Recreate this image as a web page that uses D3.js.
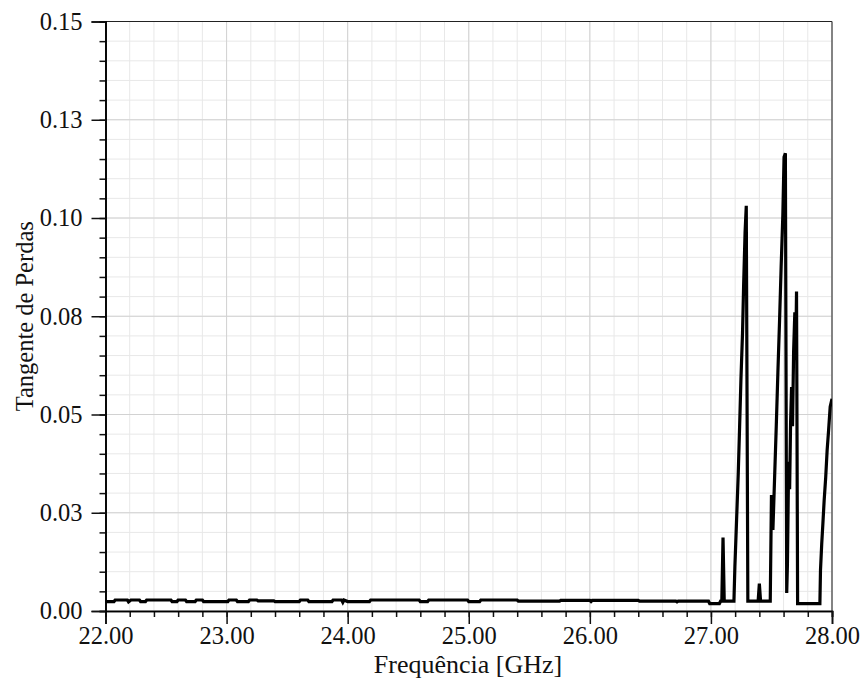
<!DOCTYPE html>
<html>
<head>
<meta charset="utf-8">
<script src="https://cdn.jsdelivr.net/npm/d3@7"></script>
<style>
  html, body { margin: 0; padding: 0; background: #fff; }
  svg { display: block; font-family: "Liberation Serif", "Times New Roman", serif; }
</style>
</head>
<body>
<svg id="chart" width="865" height="681"></svg>
<script>
// Measured loss tangent vs. frequency
const freqGHz = [
  22.00, 22.07, 22.08, 22.18, 22.19, 22.21, 22.28, 22.29, 22.33, 22.34,
  22.54, 22.55, 22.59, 22.60, 22.66, 22.67, 22.74, 22.75, 22.80, 22.81,
  23.01, 23.02, 23.08, 23.09, 23.18, 23.19, 23.25, 23.26, 23.39, 23.40,
  23.60, 23.61, 23.67, 23.68, 23.87, 23.88, 23.95, 23.96, 23.97, 24.00,
  24.18, 24.19, 24.59, 24.60, 24.66, 24.67, 24.99, 25.00, 25.09, 25.10,
  25.40, 25.41, 25.75, 25.76, 26.00, 26.01, 26.02, 26.40, 26.41, 26.71,
  26.72, 26.73, 26.98, 26.99, 27.07, 27.08, 27.09, 27.10, 27.11, 27.19,
  27.198, 27.212, 27.226, 27.237, 27.248, 27.261, 27.270, 27.282, 27.292, 27.305,
  27.39, 27.40, 27.41, 27.49,
  27.500, 27.512, 27.528, 27.540, 27.553, 27.567, 27.580, 27.594, 27.604, 27.615,
  27.626, 27.632, 27.642, 27.650, 27.658, 27.666, 27.674, 27.683, 27.693, 27.700,
  27.707, 27.716, 27.900,
  27.905, 27.915, 27.925, 27.935, 27.948, 27.960, 27.972, 27.985, 28.000
];
const tanDelta = [
  0.0024, 0.0024, 0.0028, 0.0028, 0.0023, 0.0028, 0.0028, 0.0024, 0.0024, 0.0028,
  0.0028, 0.0024, 0.0024, 0.0028, 0.0028, 0.0024, 0.0024, 0.0028, 0.0028, 0.0024,
  0.0024, 0.0028, 0.0028, 0.0024, 0.0024, 0.0028, 0.0028, 0.0026, 0.0026, 0.0024,
  0.0024, 0.0028, 0.0028, 0.0024, 0.0024, 0.0028, 0.0028, 0.0022, 0.0028, 0.0024,
  0.0024, 0.0028, 0.0028, 0.0024, 0.0024, 0.0028, 0.0028, 0.0024, 0.0024, 0.0028,
  0.0028, 0.0025, 0.0025, 0.0027, 0.0027, 0.0024, 0.0027, 0.0027, 0.0025, 0.0025,
  0.0023, 0.0025, 0.0025, 0.0019, 0.0019, 0.0025, 0.0025, 0.0187, 0.0025, 0.0025,
  0.0113, 0.0232, 0.0352, 0.0469, 0.0590, 0.0707, 0.0827, 0.0963, 0.1031, 0.0025,
  0.0025, 0.0070, 0.0025, 0.0025,
  0.0295, 0.0206, 0.0359, 0.0473, 0.0606, 0.0740, 0.0876, 0.1008, 0.1155, 0.1165,
  0.0046, 0.0120, 0.0380, 0.0310, 0.0480, 0.0570, 0.0470, 0.0660, 0.0760, 0.0640,
  0.0813, 0.0019, 0.0019,
  0.0104, 0.0170, 0.0224, 0.0280, 0.0340, 0.0410, 0.0460, 0.0520, 0.0540
];

const xTickValues = [22, 23, 24, 25, 26, 27, 28];
const xTickLabels = ["22.00", "23.00", "24.00", "25.00", "26.00", "27.00", "28.00"];
const yTickValues = [0, 0.025, 0.05, 0.075, 0.1, 0.125, 0.15];
const yTickLabels = ["0.00", "0.03", "0.05", "0.08", "0.10", "0.13", "0.15"];
const xMinorStep = 0.2;
const yMinorStep = 0.005;

const xTitle = "Frequência [GHz]";
const yTitle = "Tangente de Perdas";

const serif = '"Liberation Serif", "Times New Roman", serif';

const svg = d3.select("#chart");
const margin = { left: 105.5, right: 33, top: 21.5, bottom: 70 };
const W = +svg.attr("width"), H = +svg.attr("height");
const x0 = margin.left, x1 = W - margin.right;
const y0 = H - margin.bottom, y1 = margin.top;

const x = d3.scaleLinear().domain([22, 28]).range([x0, x1]);
const y = d3.scaleLinear().domain([0, 0.15]).range([y0, y1]);

const xMinor = d3.range(0, Math.round((28 - 22) / xMinorStep) + 1).map(i => 22 + i * xMinorStep);
const yMinor = d3.range(0, Math.round(0.15 / yMinorStep) + 1).map(i => i * yMinorStep);

// grid: fine lines first, then the major ones on top
const grid = svg.append("g");
grid.selectAll("line.vminor").data(xMinor).join("line")
  .attr("x1", d => x(d)).attr("x2", d => x(d)).attr("y1", y0).attr("y2", y1)
  .attr("stroke", "#e8e8e8").attr("stroke-width", 1);
grid.selectAll("line.hminor").data(yMinor).join("line")
  .attr("y1", d => y(d)).attr("y2", d => y(d)).attr("x1", x0).attr("x2", x1)
  .attr("stroke", "#e8e8e8").attr("stroke-width", 1);
grid.selectAll("line.vmajor").data(xTickValues).join("line")
  .attr("x1", d => x(d)).attr("x2", d => x(d)).attr("y1", y0).attr("y2", y1)
  .attr("stroke", "#d2d2d2").attr("stroke-width", 1);
grid.selectAll("line.hmajor").data(yTickValues).join("line")
  .attr("y1", d => y(d)).attr("y2", d => y(d)).attr("x1", x0).attr("x2", x1)
  .attr("stroke", "#d2d2d2").attr("stroke-width", 1);

// frame on top and right
svg.append("line").attr("x1", x0).attr("x2", x1).attr("y1", y1).attr("y2", y1)
  .attr("stroke", "#222").attr("stroke-width", 1.2);
svg.append("line").attr("x1", x1).attr("x2", x1).attr("y1", y1).attr("y2", y0)
  .attr("stroke", "#444").attr("stroke-width", 1.2);

// data trace
svg.append("clipPath").attr("id", "plotClip").append("rect")
  .attr("x", x0).attr("y", y1).attr("width", x1 - x0).attr("height", y0 - y1);
const line = d3.line().x(d => x(d[0])).y(d => y(d[1]));
svg.append("path")
  .datum(freqGHz.map((f, i) => [f, tanDelta[i]]))
  .attr("clip-path", "url(#plotClip)")
  .attr("fill", "none").attr("stroke", "#000").attr("stroke-width", 3.2)
  .attr("d", line);

// axes
const xMinorAxis = d3.axisBottom(x).tickValues(xMinor).tickSize(6).tickFormat("");
const xAxis = d3.axisBottom(x).tickValues(xTickValues).tickSize(13)
  .tickFormat((d, i) => xTickLabels[i]).tickPadding(3);
const yMinorAxis = d3.axisLeft(y).tickValues(yMinor).tickSize(6).tickFormat("");
const yAxis = d3.axisLeft(y).tickValues(yTickValues).tickSize(14)
  .tickFormat((d, i) => yTickLabels[i]).tickPadding(9);

function style(g) {
  g.attr("font-family", serif);
  g.selectAll(".domain").attr("stroke", "#000").attr("stroke-width", 1.6);
  g.selectAll(".tick line").attr("stroke", "#111").attr("stroke-width", 1.5);
  g.selectAll(".tick text").attr("fill", "#111")
    .style("font-family", serif).style("font-size", "24.5px");
}
svg.append("g").attr("transform", `translate(0,${y0})`).call(xMinorAxis).call(style);
svg.append("g").attr("transform", `translate(0,${y0})`).call(xAxis).call(style);
svg.append("g").attr("transform", `translate(${x0},0)`).call(yMinorAxis).call(style);
svg.append("g").attr("transform", `translate(${x0},0)`).call(yAxis).call(style);

// axis titles
svg.append("text").attr("x", 468).attr("y", 672.5)
  .attr("text-anchor", "middle").attr("fill", "#111")
  .style("font-family", serif).style("font-size", "26px")
  .text(xTitle);
svg.append("text").attr("transform", `translate(33,${(y0 + y1) / 2}) rotate(-90)`)
  .attr("text-anchor", "middle").attr("fill", "#111")
  .style("font-family", serif).style("font-size", "24.5px")
  .text(yTitle);
</script>
</body>
</html>
